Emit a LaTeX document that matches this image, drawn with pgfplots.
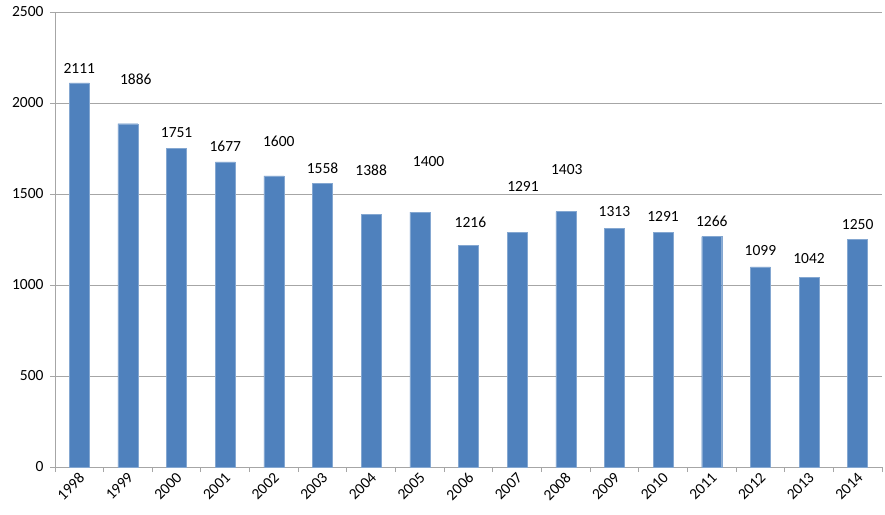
\documentclass[border=0pt]{standalone}
\usepackage{fontspec}
\setmainfont{Carlito}
\usepackage{pgfplots}
\pgfplotsset{compat=1.18}
\usepackage{pgfplotstable}
\definecolor{barblue}{HTML}{4F81BD}
\definecolor{gridgray}{HTML}{A6A6A6}

\pgfplotstableread{
x y
0 2111
1 1886
2 1751
3 1677
4 1600
5 1558
6 1388
7 1400
8 1216
9 1291
10 1403
11 1313
12 1291
13 1266
14 1099
15 1042
16 1250
}\bardata

\pgfplotstableread{
x y lab
0 2192 2111
1.16 2132 1886
2 1835 1751
3 1764 1677
4.1 1791 1600
5 1643 1558
6 1632 1388
7.18 1676 1400
8.04 1346 1216
9.12 1544 1291
10.02 1632 1403
11 1401 1313
12 1374 1291
13 1352 1266
14 1187 1099
15 1148 1042
16 1335 1250
}\labdata

\begin{document}
\begin{tikzpicture}
\useasboundingbox (-55pt,-47pt) rectangle (830pt,467pt);
\begin{axis}[
  at={(0pt,0pt)}, anchor=south west,
  scale only axis, width=827pt, height=455pt,
  xmin=-0.5, xmax=16.5, ymin=0, ymax=2500,
  axis lines*=left,
  axis line style={gridgray, line width=0.9pt},
  xtick={0,...,16},
  xticklabels={1998,1999,2000,2001,2002,2003,2004,2005,2006,2007,2008,2009,2010,2011,2012,2013,2014},
  major x tick style={draw=none},
  minor xtick={-0.5,0.5,...,16.5},
  minor x tick style={gridgray, line width=0.9pt},
  minor tick length=5pt,
  x tick label style={rotate=45, anchor=east, font=\fontsize{15.5}{17}\selectfont, xshift=3pt, yshift=-4pt},
  ytick={0,500,...,2500},
  ymajorgrids,
  grid style={gridgray, line width=0.9pt},
  major y tick style={gridgray, line width=0.9pt},
  major tick length=5pt,
  tick align=outside,
  y tick label style={font=\fontsize{15.5}{17}\selectfont, xshift=-3pt},
  /pgf/number format/1000 sep={},
  /pgf/number format/assume math mode=true,
  clip=false,
]
\addplot[ybar, bar width=20pt, fill=barblue, draw=barblue!70!white, line width=0.4pt] table[x=x,y=y] {\bardata};
\addplot[only marks, mark=none, nodes near coords, point meta=explicit symbolic,
  every node near coord/.style={anchor=center, font=\fontsize{15.5}{17}\selectfont, inner sep=0pt}]
  table[x=x,y=y,meta=lab] {\labdata};
\end{axis}
\end{tikzpicture}
\end{document}
